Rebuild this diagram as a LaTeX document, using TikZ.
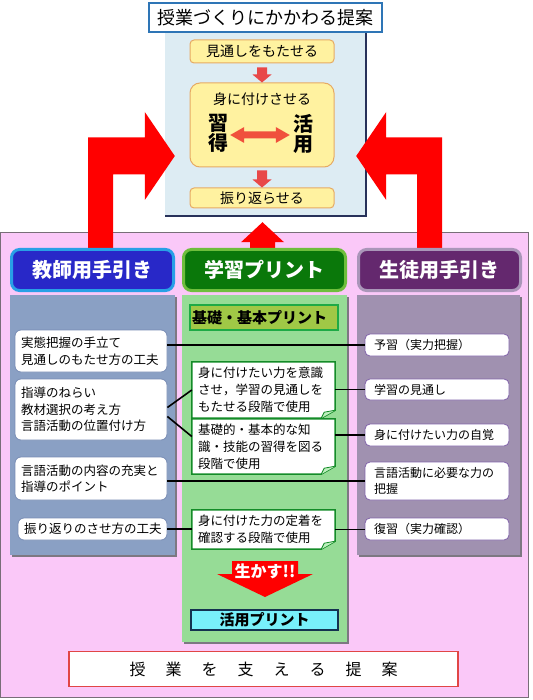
\documentclass[tikz,border=0pt]{standalone}
\usepackage{fontspec}
\setmainfont{Noto Sans CJK JP}
\usetikzlibrary{calc}
\definecolor{pinkbg}{RGB}{250,200,248}
\definecolor{pinkline}{RGB}{120,110,120}
\definecolor{panelblue}{RGB}{221,236,243}
\definecolor{navy}{RGB}{40,50,90}
\definecolor{titleb}{RGB}{46,117,182}
\definecolor{yfill}{RGB}{255,242,160}
\definecolor{yline}{RGB}{230,170,100}
\definecolor{smallred}{RGB}{232,72,72}
\definecolor{dblred}{RGB}{240,80,60}
\definecolor{bigred}{RGB}{255,0,0}
\definecolor{h1fill}{RGB}{40,40,200}
\definecolor{h1line}{RGB}{40,160,230}
\definecolor{h2fill}{RGB}{10,120,10}
\definecolor{h2line}{RGB}{110,190,60}
\definecolor{h3fill}{RGB}{100,40,110}
\definecolor{h3line}{RGB}{170,150,185}
\definecolor{colL}{RGB}{138,160,196}
\definecolor{colM}{RGB}{150,220,150}
\definecolor{colR}{RGB}{160,145,176}
\definecolor{colshadow}{RGB}{125,120,130}
\definecolor{lline}{RGB}{120,140,180}
\definecolor{rline}{RGB}{130,100,170}
\definecolor{callline}{RGB}{20,140,40}
\definecolor{foldgreen}{RGB}{190,240,190}
\definecolor{kisofill}{RGB}{160,200,70}
\definecolor{kisoline}{RGB}{30,170,70}
\definecolor{kpfill}{RGB}{120,240,250}
\definecolor{kpline}{RGB}{20,50,80}
\definecolor{botline}{RGB}{225,70,70}
\pgfdeclarelayer{bg}
\pgfdeclarelayer{mid}
\pgfsetlayers{bg,mid,main}
\newcommand\mkcallout[1]{%
  \draw[callline, fill=white, line width=1.5pt, line join=miter]
    (#1.north west) -- (#1.north east) -- ([yshift=8pt]#1.south east)
    -- ([xshift=-14pt]#1.south east) -- (#1.south west) -- cycle;
  \fill[foldgreen] ([yshift=8pt]#1.south east) -- ([xshift=-14pt]#1.south east)
    -- ([xshift=-11pt,yshift=6pt]#1.south east) -- cycle;
  \draw[callline, line width=0.8pt] ([yshift=8pt]#1.south east)
    -- ([xshift=-11pt,yshift=6pt]#1.south east) -- ([xshift=-14pt]#1.south east);}
\tikzset{
  ybox/.style={draw=yline, fill=yfill, line width=1pt, rounded corners=4pt,
    minimum width=144pt, inner sep=0pt, font=\fontsize{14}{14}\selectfont},
  hdr/.style={line width=3pt, rounded corners=8pt, minimum width=162pt,
    minimum height=41pt, inner sep=0pt, text=white,
    font=\bfseries\fontsize{20}{20}\selectfont},
  lbox/.style={draw=lline, fill=white, line width=0.8pt, rounded corners=6pt,
    text width=140pt, inner xsep=6pt, inner ysep=0pt, align=left,
    font=\fontsize{12.5}{16.5}\selectfont},
  cbox/.style={text width=131pt, inner xsep=6pt, inner ysep=0pt,
    minimum width=143pt, align=left, font=\fontsize{12.5}{17}\selectfont},
  rbox/.style={draw=rline, fill=white, line width=0.8pt, rounded corners=5pt,
    text width=126pt, inner xsep=9pt, inner ysep=0pt, align=left,
    font=\fontsize{12}{16}\selectfont},
  link/.style={line width=1.6pt, black},
}
\begin{document}
\begin{tikzpicture}[x=1pt,y=-1pt]
\useasboundingbox (0,0) rectangle (532,700);
% ---------- background layer ----------
\begin{pgfonlayer}{bg}
\fill[white] (0,0) rectangle (532,700);
\draw[pinkline, fill=pinkbg, line width=1pt] (0.5,233) rectangle (528,697);
\node[fill=panelblue, minimum width=201pt, minimum height=206pt, inner sep=0pt] (panel) at (265.5,113) {};
\draw[navy, line width=1.5pt] ([yshift=-20pt]panel.north east) -- (panel.south east) -- (panel.south west);
% columns
\fill[colshadow] (12,297) rectangle (177,557);
\fill[colL] (10,295) rectangle (175,555);
\fill[colshadow] (184,297) rectangle (349,644);
\fill[colM] (182,295) rectangle (347,642);
\fill[colshadow] (359,297) rectangle (522,557);
\fill[colR] (357,295) rectangle (520,555);
\end{pgfonlayer}
% ---------- headers ----------
\begin{pgfonlayer}{mid}
\node[hdr, fill=h1fill, draw=h1line] (h1) at (92.5,270) {教師用手引き};
\node[hdr, fill=h2fill, draw=h2line] (h2) at (264.5,270) {学習プリント};
\node[hdr, fill=h3fill, draw=h3line] (h3) at (439.5,270) {生徒用手引き};
\end{pgfonlayer}
% ---------- big arrows ----------
\begin{pgfonlayer}{bg}
\fill[bigred] let \p1=([xshift=8pt]h1.north), \p2=([xshift=10pt,yshift=-43pt]panel.west) in
  (\x1-12.5pt,\y1-6pt) -- (\x1-12.5pt,\y2+18.5pt) -- (\x2-30pt,\y2+18.5pt)
  -- (\x2-30pt,\y2+44pt) -- (\x2,\y2) -- (\x2-30pt,\y2-44pt) -- (\x2-30pt,\y2-18.5pt)
  -- (\x1+12.5pt,\y2-18.5pt) -- (\x1+12.5pt,\y1-6pt) -- cycle;
\fill[bigred] let \p1=([xshift=-10pt]h3.north), \p2=([xshift=-10pt,yshift=-43pt]panel.east) in
  (\x1+12.5pt,\y1-6pt) -- (\x1+12.5pt,\y2+18.5pt) -- (\x2+30pt,\y2+18.5pt)
  -- (\x2+30pt,\y2+44pt) -- (\x2,\y2) -- (\x2+30pt,\y2-44pt) -- (\x2+30pt,\y2-18.5pt)
  -- (\x1-12.5pt,\y2-18.5pt) -- (\x1-12.5pt,\y1-6pt) -- cycle;
\fill[bigred] let \p1=(h2.north), \p2=([xshift=-3pt,yshift=-6pt]panel.south) in
  (\x2,\y2) -- (\x2+21.5pt,\y2-20pt) -- (\x2+12.5pt,\y2-20pt) -- (\x2+12.5pt,\y1-6pt)
  -- (\x2-12.5pt,\y1-6pt) -- (\x2-12.5pt,\y2-20pt) -- (\x2-21.5pt,\y2-20pt) -- cycle;
\end{pgfonlayer}
% ---------- top part ----------
\node[draw=titleb, line width=2pt, fill=white, minimum width=233pt, minimum height=29pt,
  inner sep=0pt, font=\fontsize{18}{18}\selectfont] (title) at (265.5,17.5) {授業づくりにかかわる提案};
\node[ybox, minimum height=23pt] (see) at (262,51.5) {見通しをもたせる};
\node[ybox, minimum height=84pt, rounded corners=10pt] (core) at (262,125) {};
\node[font=\fontsize{14}{14}\selectfont, inner sep=0pt] (mi) at (262,99) {身に付けさせる};
\node[font=\bfseries\fontsize{20}{20}\selectfont, align=center, inner sep=0pt] (k1) at (218,133.5) {習\\得};
\node[font=\bfseries\fontsize{20}{20}\selectfont, align=center, inner sep=0pt] (k2) at (303,133.5) {活\\用};
\node[ybox, minimum height=20pt] (furi) at (262,198) {振り返らせる};
\fill[smallred] let \p1=(see.south), \p2=(core.north) in
  (\x1-5pt,\y1-4pt) -- (\x1+5pt,\y1-4pt) -- (\x1+5pt,\y2+8pt) -- (\x1+9.5pt,\y2+8pt)
  -- (\x1,\y2) -- (\x1-9.5pt,\y2+8pt) -- (\x1-5pt,\y2+8pt) -- cycle;
\fill[smallred] let \p1=(core.south), \p2=(furi.north) in
  (\x1-5pt,\y1-3pt) -- (\x1+5pt,\y1-3pt) -- (\x1+5pt,\y2+8pt) -- (\x1+9.5pt,\y2+8pt)
  -- (\x1,\y2) -- (\x1-9.5pt,\y2+8pt) -- (\x1-5pt,\y2+8pt) -- cycle;
\fill[dblred] let \p1=($(k1.east)+(2,1.5)$), \p2=($(k2.west)+(-3,1.5)$) in
  (\x1,\y1) -- (\x1+14pt,\y1+8pt) -- (\x1+14pt,\y1+3.5pt) -- (\x2-14pt,\y1+3.5pt)
  -- (\x2-14pt,\y1+8pt) -- (\x2,\y1) -- (\x2-14pt,\y1-8pt) -- (\x2-14pt,\y1-3.5pt)
  -- (\x1+14pt,\y1-3.5pt) -- (\x1+14pt,\y1-8pt) -- cycle;
% ---------- left column ----------
\node[lbox, minimum height=42pt] (l1) at (91,351) {実態把握の手立て\\見通しのもたせ方の工夫};
\node[lbox, minimum height=61pt] (l2) at (91,409.5) {指導のねらい\\教材選択の考え方\\言語活動の位置付け方};
\node[lbox, minimum height=43pt] (l3) at (91,478.5) {言語活動の内容の充実と\\指導のポイント};
\node[lbox, minimum height=22pt, text width=137pt] (l4) at (92.5,529) {振り返りのさせ方の工夫};
% ---------- middle column ----------
\node[draw=kisoline, fill=kisofill, line width=2pt, text width=144pt, inner xsep=2pt, inner ysep=0pt,
  minimum height=25pt, align=left, font=\bfseries\fontsize{15}{15}\selectfont] (kiso) at (264,317.5) {基礎・基本プリント};
\node[cbox, minimum height=56pt] (c1) at (263.5,390) {身に付けたい力を意識\\させ，学習の見通しを\\もたせる段階で使用};
\node[cbox, minimum height=55pt] (c2) at (263.5,446.5) {基礎的・基本的な知\\識・技能の習得を図る\\段階で使用};
\node[cbox, minimum height=39pt] (c3) at (263.5,529.5) {身に付けた力の定着を\\確認する段階で使用};
\begin{pgfonlayer}{mid}
\mkcallout{c1}
\mkcallout{c2}
\mkcallout{c3}
\end{pgfonlayer}
\node[draw=kpline, fill=kpfill, line width=2pt, minimum width=147pt, minimum height=20pt, inner sep=0pt,
  font=\bfseries\fontsize{15}{15}\selectfont] (kp) at (264.5,620) {活用プリント};
\fill[bigred] let \p1=($(c3.south)+(1.5,12)$), \p2=($(kp.north)+(0,-12)$) in
  (\x1-33pt,\y1) -- (\x1+33pt,\y1) -- (\x1+33pt,\y2+23pt) -- (\x1+48pt,\y2+23pt)
  -- (\x1,\y2) -- (\x1-48pt,\y2+23pt) -- (\x1-33pt,\y2+23pt) -- cycle;
\node[text=white, inner sep=0pt, font=\bfseries\fontsize{16}{16}\selectfont] (ikasu) at (265,571) {生かす!!};
% ---------- right column ----------
\node[rbox, minimum height=22pt] (r1) at (437,345) {予習（実力把握）};
\node[rbox, minimum height=21pt] (r2) at (437,389.5) {学習の見通し};
\node[rbox, minimum height=22pt] (r3) at (437,435) {身に付けたい力の自覚};
\node[rbox, minimum height=38pt] (r4) at (437,481) {言語活動に必要な力の\\把握};
\node[rbox, minimum height=22pt] (r5) at (437,529) {復習（実力確認）};
% ---------- bottom ----------
\node[draw=botline, line width=1.5pt, fill=white, minimum width=389pt, minimum height=35pt, inner sep=0pt,
  font=\fontsize{16}{16}\selectfont] (bot) at (263.5,669)
  {授\hspace{20pt}業\hspace{20pt}を\hspace{20pt}支\hspace{20pt}え\hspace{20pt}る\hspace{20pt}提\hspace{20pt}案};
% ---------- links ----------
\draw[link] (l1.east |- r1.west) -- (r1.west);
\draw[link] ([yshift=2pt]l2.east) -- (c1.west);
\draw[link] ([yshift=-7pt]l2.east) -- ([yshift=10pt]c2.west);
\draw[link] (c1.east |- r2.west) -- (r2.west);
\draw[link] (c2.east |- r3.west) -- (r3.west);
\draw[link] (l3.east |- r4.west) -- (r4.west);
\draw[link] (l4.east) -- (c3.west |- l4.east);
\draw[link] (c3.east) -- (r5.west |- c3.east);
\end{tikzpicture}
\end{document}
